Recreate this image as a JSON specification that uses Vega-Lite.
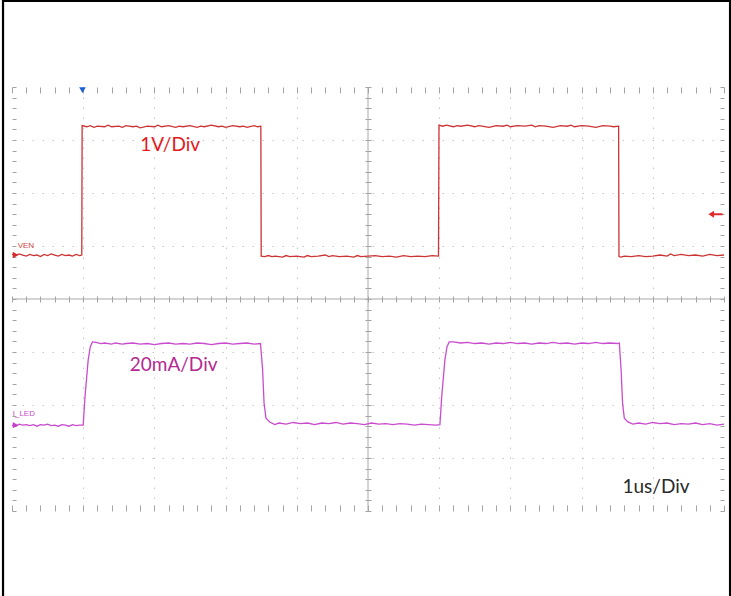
{
  "$schema": "https://vega.github.io/schema/vega-lite/v6.json",
  "width": 712,
  "height": 424,
  "autosize": "none",
  "padding": {"left": 12, "top": 87, "right": 7, "bottom": 85},
  "background": "white",
  "config": {
    "view": {"stroke": null},
    "axis": {"labels": false, "title": null, "domain": false, "grid": false, "tickColor": "#a3a3a3", "tickWidth": 1}
  },
  "data": {"values": [{}]},
  "datasets": {
    "ven": [
      {"t": 0.00, "v": 4.84}, {"t": 0.05, "v": 4.82}, {"t": 0.10, "v": 4.85}, {"t": 0.15, "v": 4.83}, {"t": 0.20, "v": 4.81},
      {"t": 0.25, "v": 4.84}, {"t": 0.30, "v": 4.82}, {"t": 0.35, "v": 4.83}, {"t": 0.40, "v": 4.80}, {"t": 0.45, "v": 4.84},
      {"t": 0.50, "v": 4.82}, {"t": 0.55, "v": 4.85}, {"t": 0.60, "v": 4.83}, {"t": 0.65, "v": 4.81}, {"t": 0.70, "v": 4.84},
      {"t": 0.75, "v": 4.82}, {"t": 0.80, "v": 4.83}, {"t": 0.85, "v": 4.81}, {"t": 0.90, "v": 4.84}, {"t": 0.95, "v": 4.82},
      {"t": 0.98, "v": 4.83}, {"t": 0.985, "v": 7.27},
      {"t": 1.05, "v": 7.25}, {"t": 1.10, "v": 7.27}, {"t": 1.15, "v": 7.24}, {"t": 1.20, "v": 7.26}, {"t": 1.30, "v": 7.25},
      {"t": 1.35, "v": 7.28}, {"t": 1.40, "v": 7.25}, {"t": 1.50, "v": 7.26}, {"t": 1.55, "v": 7.24}, {"t": 1.60, "v": 7.27},
      {"t": 1.70, "v": 7.25}, {"t": 1.75, "v": 7.26}, {"t": 1.80, "v": 7.23}, {"t": 1.90, "v": 7.26}, {"t": 2.00, "v": 7.25},
      {"t": 2.05, "v": 7.28}, {"t": 2.10, "v": 7.25}, {"t": 2.20, "v": 7.27}, {"t": 2.30, "v": 7.24}, {"t": 2.35, "v": 7.26},
      {"t": 2.40, "v": 7.25}, {"t": 2.50, "v": 7.27}, {"t": 2.60, "v": 7.24}, {"t": 2.65, "v": 7.26}, {"t": 2.70, "v": 7.25},
      {"t": 2.80, "v": 7.28}, {"t": 2.90, "v": 7.25}, {"t": 2.95, "v": 7.26}, {"t": 3.00, "v": 7.24}, {"t": 3.10, "v": 7.27},
      {"t": 3.20, "v": 7.25}, {"t": 3.25, "v": 7.26}, {"t": 3.30, "v": 7.24}, {"t": 3.40, "v": 7.27}, {"t": 3.45, "v": 7.25},
      {"t": 3.495, "v": 7.26}, {"t": 3.50, "v": 4.81},
      {"t": 3.55, "v": 4.80}, {"t": 3.60, "v": 4.82}, {"t": 3.65, "v": 4.80}, {"t": 3.70, "v": 4.81}, {"t": 3.80, "v": 4.79},
      {"t": 3.85, "v": 4.82}, {"t": 3.90, "v": 4.80}, {"t": 4.00, "v": 4.81}, {"t": 4.10, "v": 4.79}, {"t": 4.15, "v": 4.82},
      {"t": 4.20, "v": 4.80}, {"t": 4.30, "v": 4.81}, {"t": 4.40, "v": 4.83}, {"t": 4.45, "v": 4.80}, {"t": 4.50, "v": 4.82},
      {"t": 4.60, "v": 4.80}, {"t": 4.70, "v": 4.81}, {"t": 4.80, "v": 4.79}, {"t": 4.85, "v": 4.82}, {"t": 4.90, "v": 4.80},
      {"t": 5.00, "v": 4.81}, {"t": 5.10, "v": 4.82}, {"t": 5.20, "v": 4.80}, {"t": 5.30, "v": 4.81}, {"t": 5.40, "v": 4.79},
      {"t": 5.50, "v": 4.82}, {"t": 5.60, "v": 4.80}, {"t": 5.70, "v": 4.81}, {"t": 5.80, "v": 4.80}, {"t": 5.90, "v": 4.82},
      {"t": 5.99, "v": 4.81}, {"t": 5.997, "v": 7.28},
      {"t": 6.05, "v": 7.26}, {"t": 6.10, "v": 7.28}, {"t": 6.20, "v": 7.25}, {"t": 6.25, "v": 7.27}, {"t": 6.30, "v": 7.26},
      {"t": 6.40, "v": 7.28}, {"t": 6.50, "v": 7.25}, {"t": 6.55, "v": 7.27}, {"t": 6.60, "v": 7.26}, {"t": 6.70, "v": 7.24},
      {"t": 6.80, "v": 7.27}, {"t": 6.90, "v": 7.26}, {"t": 6.95, "v": 7.28}, {"t": 7.00, "v": 7.25}, {"t": 7.10, "v": 7.27},
      {"t": 7.20, "v": 7.26}, {"t": 7.30, "v": 7.28}, {"t": 7.35, "v": 7.25}, {"t": 7.40, "v": 7.27}, {"t": 7.50, "v": 7.26},
      {"t": 7.60, "v": 7.24}, {"t": 7.70, "v": 7.27}, {"t": 7.80, "v": 7.26}, {"t": 7.85, "v": 7.28}, {"t": 7.90, "v": 7.25},
      {"t": 8.00, "v": 7.27}, {"t": 8.10, "v": 7.26}, {"t": 8.20, "v": 7.24}, {"t": 8.30, "v": 7.27}, {"t": 8.40, "v": 7.26},
      {"t": 8.45, "v": 7.25}, {"t": 8.52, "v": 7.26}, {"t": 8.525, "v": 4.80},
      {"t": 8.55, "v": 4.79}, {"t": 8.60, "v": 4.81}, {"t": 8.70, "v": 4.80}, {"t": 8.80, "v": 4.82}, {"t": 8.90, "v": 4.80},
      {"t": 9.00, "v": 4.81}, {"t": 9.10, "v": 4.83}, {"t": 9.20, "v": 4.81}, {"t": 9.25, "v": 4.85}, {"t": 9.30, "v": 4.82},
      {"t": 9.40, "v": 4.84}, {"t": 9.50, "v": 4.82}, {"t": 9.60, "v": 4.83}, {"t": 9.70, "v": 4.81}, {"t": 9.80, "v": 4.84},
      {"t": 9.90, "v": 4.82}, {"t": 10.0, "v": 4.83}
    ],
    "iled": [
      {"t": 0.00, "v": 1.62}, {"t": 0.05, "v": 1.60}, {"t": 0.10, "v": 1.64}, {"t": 0.15, "v": 1.62}, {"t": 0.20, "v": 1.63},
      {"t": 0.25, "v": 1.61}, {"t": 0.30, "v": 1.63}, {"t": 0.35, "v": 1.60}, {"t": 0.40, "v": 1.63}, {"t": 0.45, "v": 1.62},
      {"t": 0.50, "v": 1.64}, {"t": 0.55, "v": 1.61}, {"t": 0.60, "v": 1.62}, {"t": 0.65, "v": 1.60}, {"t": 0.70, "v": 1.63},
      {"t": 0.75, "v": 1.62}, {"t": 0.80, "v": 1.60}, {"t": 0.85, "v": 1.63}, {"t": 0.90, "v": 1.61}, {"t": 0.95, "v": 1.62},
      {"t": 1.00, "v": 1.62}, {"t": 1.025, "v": 2.15}, {"t": 1.07, "v": 2.85}, {"t": 1.10, "v": 3.10}, {"t": 1.13, "v": 3.19},
      {"t": 1.18, "v": 3.18}, {"t": 1.25, "v": 3.16}, {"t": 1.30, "v": 3.17}, {"t": 1.40, "v": 3.15}, {"t": 1.45, "v": 3.17},
      {"t": 1.55, "v": 3.15}, {"t": 1.60, "v": 3.16}, {"t": 1.70, "v": 3.17}, {"t": 1.80, "v": 3.15}, {"t": 1.90, "v": 3.16},
      {"t": 2.00, "v": 3.14}, {"t": 2.10, "v": 3.16}, {"t": 2.20, "v": 3.17}, {"t": 2.30, "v": 3.15}, {"t": 2.40, "v": 3.16},
      {"t": 2.50, "v": 3.15}, {"t": 2.60, "v": 3.17}, {"t": 2.70, "v": 3.16}, {"t": 2.80, "v": 3.14}, {"t": 2.90, "v": 3.16},
      {"t": 3.00, "v": 3.17}, {"t": 3.10, "v": 3.15}, {"t": 3.20, "v": 3.16}, {"t": 3.30, "v": 3.17}, {"t": 3.40, "v": 3.15},
      {"t": 3.49, "v": 3.16}, {"t": 3.52, "v": 2.66}, {"t": 3.54, "v": 2.04}, {"t": 3.567, "v": 1.75}, {"t": 3.62, "v": 1.68},
      {"t": 3.69, "v": 1.63}, {"t": 3.75, "v": 1.66}, {"t": 3.85, "v": 1.64}, {"t": 3.95, "v": 1.67}, {"t": 4.05, "v": 1.65},
      {"t": 4.15, "v": 1.66}, {"t": 4.25, "v": 1.63}, {"t": 4.35, "v": 1.66}, {"t": 4.45, "v": 1.65}, {"t": 4.55, "v": 1.67},
      {"t": 4.65, "v": 1.64}, {"t": 4.75, "v": 1.66}, {"t": 4.85, "v": 1.65}, {"t": 4.95, "v": 1.63}, {"t": 5.05, "v": 1.66},
      {"t": 5.15, "v": 1.64}, {"t": 5.25, "v": 1.65}, {"t": 5.35, "v": 1.63}, {"t": 5.45, "v": 1.65}, {"t": 5.55, "v": 1.64},
      {"t": 5.65, "v": 1.62}, {"t": 5.75, "v": 1.64}, {"t": 5.85, "v": 1.63}, {"t": 5.95, "v": 1.62}, {"t": 6.01, "v": 1.63},
      {"t": 6.035, "v": 2.15}, {"t": 6.08, "v": 2.85}, {"t": 6.11, "v": 3.10}, {"t": 6.14, "v": 3.19},
      {"t": 6.20, "v": 3.19}, {"t": 6.30, "v": 3.17}, {"t": 6.40, "v": 3.18}, {"t": 6.50, "v": 3.16}, {"t": 6.60, "v": 3.17},
      {"t": 6.70, "v": 3.15}, {"t": 6.80, "v": 3.17}, {"t": 6.90, "v": 3.16}, {"t": 7.00, "v": 3.18}, {"t": 7.10, "v": 3.16},
      {"t": 7.20, "v": 3.17}, {"t": 7.30, "v": 3.15}, {"t": 7.40, "v": 3.17}, {"t": 7.50, "v": 3.16}, {"t": 7.60, "v": 3.18},
      {"t": 7.70, "v": 3.16}, {"t": 7.80, "v": 3.17}, {"t": 7.90, "v": 3.15}, {"t": 8.00, "v": 3.17}, {"t": 8.10, "v": 3.16},
      {"t": 8.20, "v": 3.18}, {"t": 8.30, "v": 3.16}, {"t": 8.40, "v": 3.17}, {"t": 8.50, "v": 3.16}, {"t": 8.53, "v": 3.17},
      {"t": 8.555, "v": 2.66}, {"t": 8.575, "v": 2.04}, {"t": 8.60, "v": 1.75}, {"t": 8.65, "v": 1.68}, {"t": 8.72, "v": 1.64},
      {"t": 8.80, "v": 1.66}, {"t": 8.90, "v": 1.64}, {"t": 9.00, "v": 1.67}, {"t": 9.10, "v": 1.65}, {"t": 9.20, "v": 1.66},
      {"t": 9.30, "v": 1.63}, {"t": 9.40, "v": 1.65}, {"t": 9.50, "v": 1.64}, {"t": 9.60, "v": 1.66}, {"t": 9.70, "v": 1.63},
      {"t": 9.80, "v": 1.65}, {"t": 9.90, "v": 1.62}, {"t": 10.0, "v": 1.64}
    ]
  },
  "resolve": {"axis": {"x": "independent", "y": "independent"}},
  "layer": [
    {
      "data": {"name": "ven"},
      "mark": {"type": "line", "opacity": 0},
      "encoding": {
        "x": {"field": "t", "type": "quantitative", "scale": {"domain": [0, 10], "nice": false, "zero": false},
          "axis": {"orient": "bottom", "values": [1, 2, 3, 4, 6, 7, 8, 9], "grid": true, "gridColor": "#c6c6c6", "gridDash": [1.5, 8.5], "gridWidth": 1, "ticks": false}},
        "y": {"field": "v", "type": "quantitative", "scale": {"domain": [0, 8], "nice": false, "zero": false},
          "axis": {"orient": "left", "values": [1, 2, 3, 5, 6, 7], "grid": true, "gridColor": "#c6c6c6", "gridDash": [1.5, 8.5], "gridWidth": 1, "ticks": false}}
      }
    },
    {
      "data": {"name": "iled"},
      "mark": {"type": "line", "opacity": 0},
      "encoding": {
        "x": {"field": "t", "type": "quantitative", "scale": {"domain": [0, 10], "nice": false, "zero": false},
          "axis": {"orient": "bottom", "offset": -215, "tickSize": 6,
            "values": [0,0.2,0.4,0.6,0.8,1,1.2,1.4,1.6,1.8,2,2.2,2.4,2.6,2.8,3,3.2,3.4,3.6,3.8,4,4.2,4.4,4.6,4.8,5,5.2,5.4,5.6,5.8,6,6.2,6.4,6.6,6.8,7,7.2,7.4,7.6,7.8,8,8.2,8.4,8.6,8.8,9,9.2,9.4,9.6,9.8,10]}},
        "y": {"field": "v", "type": "quantitative", "scale": {"domain": [0, 8], "nice": false, "zero": false},
          "axis": {"orient": "left", "offset": -359, "tickSize": 6,
            "values": [0,0.2,0.4,0.6,0.8,1,1.2,1.4,1.6,1.8,2,2.2,2.4,2.6,2.8,3,3.2,3.4,3.6,3.8,4,4.2,4.4,4.6,4.8,5,5.2,5.4,5.6,5.8,6,6.2,6.4,6.6,6.8,7,7.2,7.4,7.6,7.8,8]}}
      }
    },
    {
      "mark": {"type": "rule", "color": "#a8a8a8", "strokeWidth": 1},
      "encoding": {"y": {"datum": 4, "type": "quantitative", "axis": null}}
    },
    {
      "mark": {"type": "rule", "color": "#a8a8a8", "strokeWidth": 1},
      "encoding": {"x": {"datum": 5, "type": "quantitative", "axis": null}}
    },
    {
      "data": {"name": "ven"},
      "mark": {"type": "line", "color": "#cc3434", "strokeWidth": 1.3},
      "encoding": {
        "x": {"field": "t", "type": "quantitative", "scale": {"domain": [0, 10], "nice": false, "zero": false},
          "axis": {"orient": "top", "offset": -6, "tickSize": 6,
            "values": [0,0.2,0.4,0.6,0.8,1,1.2,1.4,1.6,1.8,2,2.2,2.4,2.6,2.8,3,3.2,3.4,3.6,3.8,4,4.2,4.4,4.6,4.8,5,5.2,5.4,5.6,5.8,6,6.2,6.4,6.6,6.8,7,7.2,7.4,7.6,7.8,8,8.2,8.4,8.6,8.8,9,9.2,9.4,9.6,9.8,10]}},
        "y": {"field": "v", "type": "quantitative", "scale": {"domain": [0, 8], "nice": false, "zero": false},
          "axis": {"orient": "left", "offset": -4, "tickSize": 4,
            "values": [0,0.2,0.4,0.6,0.8,1,1.2,1.4,1.6,1.8,2,2.2,2.4,2.6,2.8,3,3.2,3.4,3.6,3.8,4,4.2,4.4,4.6,4.8,5,5.2,5.4,5.6,5.8,6,6.2,6.4,6.6,6.8,7,7.2,7.4,7.6,7.8,8]}}
      }
    },
    {
      "data": {"name": "iled"},
      "mark": {"type": "line", "color": "#c94ccf", "strokeWidth": 1.3},
      "encoding": {
        "x": {"field": "t", "type": "quantitative", "scale": {"domain": [0, 10], "nice": false, "zero": false},
          "axis": {"orient": "bottom", "offset": -6, "tickSize": 6,
            "values": [0,0.2,0.4,0.6,0.8,1,1.2,1.4,1.6,1.8,2,2.2,2.4,2.6,2.8,3,3.2,3.4,3.6,3.8,4,4.2,4.4,4.6,4.8,5,5.2,5.4,5.6,5.8,6,6.2,6.4,6.6,6.8,7,7.2,7.4,7.6,7.8,8,8.2,8.4,8.6,8.8,9,9.2,9.4,9.6,9.8,10]}},
        "y": {"field": "v", "type": "quantitative", "scale": {"domain": [0, 8], "nice": false, "zero": false},
          "axis": {"orient": "right", "offset": -4, "tickSize": 4,
            "values": [0,0.2,0.4,0.6,0.8,1,1.2,1.4,1.6,1.8,2,2.2,2.4,2.6,2.8,3,3.2,3.4,3.6,3.8,4,4.2,4.4,4.6,4.8,5,5.2,5.4,5.6,5.8,6,6.2,6.4,6.6,6.8,7,7.2,7.4,7.6,7.8,8]}}
      }
    },
    {
      "mark": {"type": "point", "shape": "triangle-down", "filled": true, "color": "#1f5fd6", "size": 45, "opacity": 1},
      "encoding": {"x": {"datum": 0.99, "type": "quantitative", "axis": null}, "y": {"datum": 7.94, "type": "quantitative", "axis": null}}
    },
    {
      "mark": {"type": "point", "shape": "triangle-right", "filled": true, "color": "#d42a2a", "size": 40, "opacity": 1},
      "encoding": {"x": {"datum": 0.05, "type": "quantitative", "axis": null}, "y": {"datum": 4.83, "type": "quantitative", "axis": null}}
    },
    {
      "mark": {"type": "point", "shape": "triangle-right", "filled": true, "color": "#c63fcc", "size": 40, "opacity": 1},
      "encoding": {"x": {"datum": 0.05, "type": "quantitative", "axis": null}, "y": {"datum": 1.62, "type": "quantitative", "axis": null}}
    },
    {
      "mark": {"type": "point", "shape": "M-1,0L-0.2,-0.5L-0.2,-0.15L1,-0.15L1,0.15L-0.2,0.15L-0.2,0.5Z", "filled": true, "color": "#e02a2a", "size": 200, "opacity": 1},
      "encoding": {"x": {"datum": 9.88, "type": "quantitative", "axis": null}, "y": {"datum": 5.6, "type": "quantitative", "axis": null}}
    },
    {
      "mark": {"type": "text", "text": "VEN", "font": "Liberation Sans", "fontSize": 8, "color": "#d04848", "align": "left", "baseline": "alphabetic"},
      "encoding": {"x": {"datum": 0.08, "type": "quantitative", "axis": null}, "y": {"datum": 4.96, "type": "quantitative", "axis": null}}
    },
    {
      "mark": {"type": "text", "text": "I_LED", "font": "Liberation Sans", "fontSize": 8, "color": "#c64ccc", "align": "left", "baseline": "alphabetic"},
      "encoding": {"x": {"datum": 0.01, "type": "quantitative", "axis": null}, "y": {"datum": 1.79, "type": "quantitative", "axis": null}}
    },
    {
      "mark": {"type": "text", "text": "1V/Div", "font": "Lato", "fontSize": 19, "color": "#e3191c", "align": "center", "baseline": "alphabetic"},
      "encoding": {"x": {"datum": 2.22, "type": "quantitative", "axis": null}, "y": {"datum": 6.79, "type": "quantitative", "axis": null}}
    },
    {
      "mark": {"type": "text", "text": "20mA/Div", "font": "Lato", "fontSize": 19, "color": "#b42a92", "align": "center", "baseline": "alphabetic"},
      "encoding": {"x": {"datum": 2.27, "type": "quantitative", "axis": null}, "y": {"datum": 2.64, "type": "quantitative", "axis": null}}
    },
    {
      "mark": {"type": "text", "text": "1us/Div", "font": "Lato", "fontSize": 19, "color": "#2a2a2a", "align": "center", "baseline": "alphabetic"},
      "encoding": {"x": {"datum": 9.045, "type": "quantitative", "axis": null}, "y": {"datum": 0.34, "type": "quantitative", "axis": null}}
    },
    {
      "mark": {"type": "rect", "fill": null, "fillOpacity": 0, "stroke": "#000000", "strokeWidth": 2.2},
      "encoding": {
        "x": {"datum": -0.126, "type": "quantitative", "axis": null},
        "x2": {"datum": 10.085},
        "y": {"datum": 9.625, "type": "quantitative", "axis": null},
        "y2": {"datum": -1.75}
      }
    }
  ]
}
